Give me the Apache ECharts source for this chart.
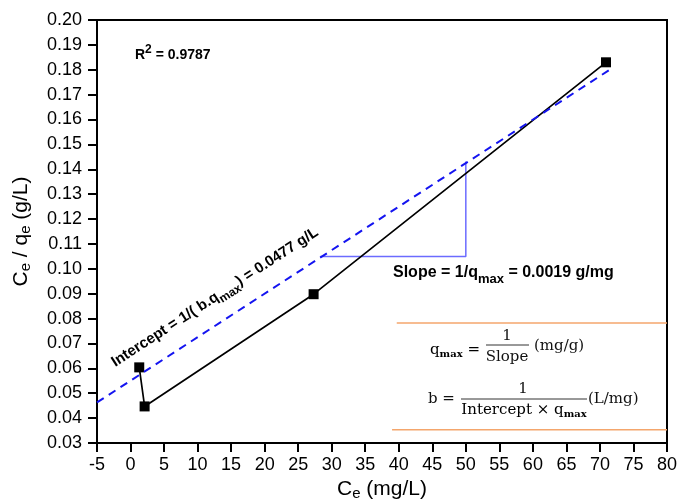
<!DOCTYPE html>
<html>
<head>
<meta charset="utf-8">
<script src="https://cdn.jsdelivr.net/npm/echarts@6/dist/echarts.min.js"></script>
<style>
  html, body { margin: 0; padding: 0; background: #fff; }
  #chart { width: 679px; height: 499px; }
</style>
</head>
<body>
<div id="chart"></div>
<script>
// Langmuir linear plot: Ce/qe against Ce
const ceValues = [1.3, 2.1, 27.3, 70.9];
const ratioValues = [0.0604, 0.0447, 0.0898, 0.183];

// Fitted regression line (dashed), drawn between its two end points
const fitX = [-5, 71.8];
const fitY = [0.0463, 0.1806];

// Slope triangle under the fitted line
const slopeX = [28.3, 50, 50];
const slopeY = [0.105, 0.105, 0.1431];

// Separator rules around the formula box
const ruleTopX = [39.7, 80];
const ruleTopY = [0.0782, 0.0782];
const ruleBottomX = [39.0, 80];
const ruleBottomY = [0.0353, 0.0353];

const xTicks = { min: -5, max: 80, step: 5 };
const yTicks = { min: 0.03, max: 0.20, step: 0.01 };

const r2Text = '0.9787';
const slopeText = '0.0019 g/mg';
const interceptText = '0.0477 g/L';

const pairs = (xs, ys) => xs.map((x, i) => [x, ys[i]]);

const chart = echarts.init(document.getElementById('chart'));
const FONT = 'Liberation Sans, Arial, sans-serif';
const SERIF = 'DejaVu Serif, serif';

const axisCommon = {
  axisLine: { show: true, onZero: false, lineStyle: { color: '#000', width: 2 } },
  axisTick: { show: true, inside: false, length: 9, lineStyle: { color: '#000', width: 2 } },
  splitLine: { show: false },
  axisLabel: { color: '#000', fontFamily: FONT, fontSize: 18 }
};

// bold annotation text with a lowered "max" subscript
const boldRich = (size, subSize, drop) => ({
  b: { fontFamily: FONT, fontWeight: 'bold', fontSize: size, color: '#000', verticalAlign: 'top' },
  s: { fontFamily: FONT, fontWeight: 'bold', fontSize: subSize, color: '#000', padding: [drop, 0, 0, 0], verticalAlign: 'top' }
});

// axis title with a subscript "e"
const titleRich = {
  c: { fontFamily: FONT, fontSize: 21, color: '#000', verticalAlign: 'top' },
  e: { fontFamily: FONT, fontSize: 15, color: '#000', padding: [7, 0, 0, 0], verticalAlign: 'top' }
};

const serifText = (x, y, text, align) => ({
  type: 'text', x: x, y: y,
  style: { text: text, font: '15px ' + SERIF, fill: '#111', textAlign: align || 'left', textVerticalAlign: 'middle' }
});
const serifRich = (x, y, text, align) => ({
  type: 'text', x: x, y: y,
  style: {
    text: text, textAlign: align || 'left', textVerticalAlign: 'middle',
    rich: {
      n: { fontFamily: SERIF, fontSize: 15, color: '#111', verticalAlign: 'top' },
      m: { fontFamily: SERIF, fontSize: 10, fontWeight: 'bold', color: '#111', padding: [7, 0, 0, 0], verticalAlign: 'top' }
    }
  }
});
const rule = (x1, x2, y) => ({
  type: 'line', shape: { x1: x1, y1: y, x2: x2, y2: y },
  style: { stroke: '#333', lineWidth: 1 }
});

chart.setOption({
  animation: false,
  backgroundColor: '#fff',
  grid: {
    left: 97, right: 12, top: 20, bottom: 56, outerBoundsMode: 'none', containLabel: false,
    show: true, borderColor: '#000', borderWidth: 2
  },
  xAxis: Object.assign({
    type: 'value', min: xTicks.min, max: xTicks.max, interval: xTicks.step,
    name: '{c|C}{e|e}{c| (mg/L)}', nameLocation: 'middle', nameGap: 34,
    nameTextStyle: { rich: titleRich }
  }, axisCommon, { axisLabel: Object.assign({}, axisCommon.axisLabel, { margin: 13 }) }),
  yAxis: Object.assign({
    type: 'value', min: yTicks.min, max: yTicks.max, interval: yTicks.step,
    name: '{c|C}{e|e}{c| / q}{e|e}{c| (g/L)}', nameLocation: 'middle', nameGap: 64, nameRotate: 90,
    nameTextStyle: { rich: titleRich }
  }, axisCommon, {
    axisLabel: Object.assign({}, axisCommon.axisLabel, { margin: 15, formatter: v => v.toFixed(2) })
  }),
  series: [
    {
      type: 'line', data: pairs(ruleTopX, ruleTopY), symbol: 'none', silent: true,
      lineStyle: { color: '#f4a66c', width: 1.5 }
    },
    {
      type: 'line', data: pairs(ruleBottomX, ruleBottomY), symbol: 'none', silent: true,
      lineStyle: { color: '#f4a66c', width: 1.5 }
    },
    {
      type: 'line', data: pairs(slopeX, slopeY), symbol: 'none', silent: true,
      lineStyle: { color: '#6b6bff', width: 1.5 }
    },
    {
      type: 'line', data: pairs(ceValues, ratioValues), symbol: 'rect', symbolSize: 10,
      itemStyle: { color: '#000' }, lineStyle: { color: '#000', width: 1.7 }, z: 3
    },
    {
      type: 'line', data: pairs(fitX, fitY), symbol: 'none', z: 4,
      lineStyle: { color: '#1414f0', width: 2, type: [8, 6] }
    }
  ],
  graphic: [
    {
      type: 'text', x: 135, y: 53,
      style: {
        text: '{b|R}{p|2}{b| = ' + r2Text + '}', textVerticalAlign: 'middle',
        rich: {
          b: { fontFamily: FONT, fontWeight: 'bold', fontSize: 14, color: '#000', padding: [4, 0, 0, 0], verticalAlign: 'top' },
          p: { fontFamily: FONT, fontWeight: 'bold', fontSize: 12, color: '#000', verticalAlign: 'top' }
        }
      }
    },
    {
      type: 'text', x: 393, y: 275,
      style: {
        text: '{b|Slope = 1/q}{s|max}{b| = ' + slopeText + '}', textVerticalAlign: 'middle',
        rich: boldRich(16, 13, 8)
      }
    },
    {
      type: 'text', x: 216, y: 299, rotation: 33 * Math.PI / 180,
      style: {
        text: '{b|Intercept = 1/( b.q}{s|max}{b|) = ' + interceptText + '}',
        textAlign: 'center', textVerticalAlign: 'middle',
        rich: boldRich(15, 12, 7)
      }
    },
    // q_max formula
    serifRich(430, 351, '{n|q}{m|max}{n| =}'),
    serifText(507, 336, '1', 'center'),
    rule(486, 529, 345),
    serifText(507, 357, 'Slope', 'center'),
    serifText(534, 346, '(mg/g)'),
    // b formula
    serifText(428, 399, 'b ='),
    serifText(523, 389, '1', 'center'),
    rule(461, 587, 399),
    serifRich(524, 411, '{n|Intercept × q}{m|max}', 'center'),
    serifText(588, 399, '(L/mg)')
  ]
});
</script>
</body>
</html>
